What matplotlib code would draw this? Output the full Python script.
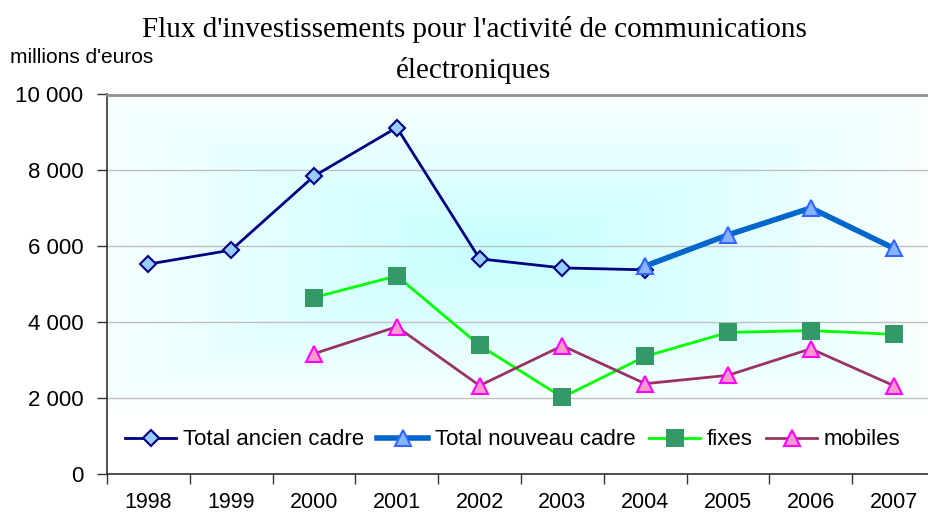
import numpy as np
import matplotlib
matplotlib.use("Agg")
import matplotlib.pyplot as plt
from matplotlib.ticker import FuncFormatter, FixedLocator
from matplotlib.colors import LinearSegmentedColormap

years = ["1998", "1999", "2000", "2001", "2002", "2003", "2004", "2005", "2006", "2007"]
total_ancien = [5530, 5900, 7850, 9130, 5670, 5430, 5380, np.nan, np.nan, np.nan]
total_nouveau = [np.nan, np.nan, np.nan, np.nan, np.nan, np.nan, 5480, 6300, 7010, 5950]
fixes = [np.nan, np.nan, 4650, 5220, 3390, 2020, 3100, 3730, 3780, 3680]
mobiles = [np.nan, np.nan, 3170, 3880, 2330, 3380, 2380, 2600, 3300, 2330]

W, H = 929, 513
fig = plt.figure(figsize=(W / 100, H / 100), dpi=100, facecolor="white")
ax_l, ax_r, ax_t, ax_b = 107, 935, 94.5, 474
ax = fig.add_axes([ax_l / W, 1 - ax_b / H, (ax_r - ax_l) / W, (ax_b - ax_t) / H])
ax.set_facecolor("white")

x = np.arange(len(years))
ax.set_xlim(-0.5, len(years) - 0.5)
ax.set_ylim(0, 10000)

# background gradient (white at edges, cyan in the middle)
gx = np.linspace(0, 1, 300)
gy = np.linspace(0, 1, 200)
GX, GY = np.meshgrid(gx, gy)
t = np.maximum(np.abs(GX - 0.48) / 0.56, np.abs(GY - 0.52) / 0.52)
t = np.clip(t, 0, 1)
cmap = LinearSegmentedColormap.from_list("bg", ["#c6ffff", "#ffffff"])
ax.imshow(t, cmap=cmap, vmin=0, vmax=1, origin="lower", aspect="auto",
          extent=(-0.5, 9.5, 1400, 10000), zorder=0, interpolation="bilinear")

ax.grid(axis="y", color="#c0c0c0", linewidth=1.0, zorder=1)
ax.set_axisbelow(True)

ax.plot(x, total_ancien, color="#000080", linewidth=2.0, marker="D", markersize=8,
        markerfacecolor="#99ccff", markeredgecolor="#000080", markeredgewidth=1.5,
        label="Total ancien cadre", zorder=3)
ax.plot(x, total_nouveau, color="#0066cc", linewidth=4.0, marker="^", markersize=11,
        markerfacecolor="#88b4ff", markeredgecolor="#3366ff", markeredgewidth=1.5,
        label="Total nouveau cadre", zorder=4)
ax.plot(x, fixes, color="#00ff00", linewidth=2.0, marker="s", markersize=13,
        markerfacecolor="#339966", markeredgecolor="#339966", markeredgewidth=0,
        label="fixes", zorder=3)
ax.plot(x, mobiles, color="#993366", linewidth=2.0, marker="^", markersize=11,
        markerfacecolor="#ff99cc", markeredgecolor="#ff00ff", markeredgewidth=1.5,
        label="mobiles", zorder=3)

# axes styling
ax.spines["right"].set_visible(False)
ax.spines["top"].set_color("#909090")
ax.spines["top"].set_linewidth(2.0)
ax.spines["left"].set_color("#333333")
ax.spines["left"].set_linewidth(1.2)
ax.spines["bottom"].set_color("#333333")
ax.spines["bottom"].set_linewidth(1.2)

ax.yaxis.set_major_locator(FixedLocator([0, 2000, 4000, 6000, 8000, 10000]))
ax.yaxis.set_major_formatter(FuncFormatter(lambda v, p: f"{int(v):,}".replace(",", " ")))
ax.tick_params(axis="y", direction="out", length=7, width=1, color="#333333",
               labelsize=16, pad=10, labelcolor="black")
for lab in ax.get_yticklabels():
    lab.set_fontfamily("Liberation Sans")

ax.set_xticks(np.arange(len(years) + 1) - 0.5)
ax.set_xticklabels([])
ax.set_xticks(x, minor=True)
ax.set_xticklabels(years, minor=True, fontsize=15.5, fontfamily="Liberation Sans")
ax.tick_params(axis="x", which="major", direction="out", length=7, width=1, color="#333333")
ax.tick_params(axis="x", which="minor", length=0, pad=13)

leg = ax.legend(loc="center", bbox_to_anchor=(0.49, 0.09), ncol=4, frameon=False,
                prop={"family": "Liberation Sans", "size": 16},
                handlelength=2.3, handletextpad=0.3, columnspacing=0.6)

fig.text(474 / W, 1 - 37 / H, "Flux d'investissements pour l'activité de communications",
         ha="center", va="baseline", fontsize=21, fontfamily="Liberation Serif")
fig.text(474 / W, 1 - 78 / H, "électroniques",
         ha="center", va="baseline", fontsize=21, fontfamily="Liberation Serif")
fig.text(10 / W, 1 - 63 / H, "millions d'euros", ha="left", va="baseline",
         fontsize=15, fontfamily="Liberation Sans")

fig.savefig("out.png", dpi=100, facecolor="white")
